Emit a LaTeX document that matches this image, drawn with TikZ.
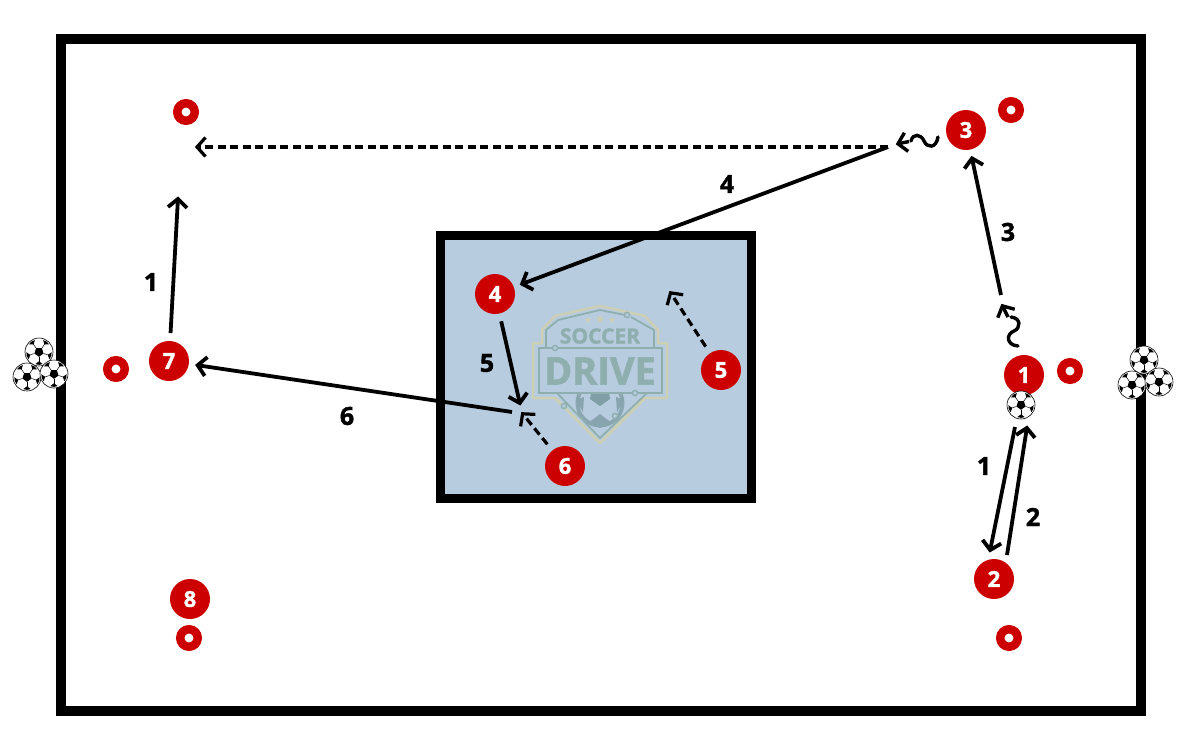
\documentclass[tikz,border=0pt]{standalone}
\usepackage{fontspec}
\setmainfont{Open Sans}[BoldFeatures={FakeBold=1.5}]
\usetikzlibrary{arrows.meta, shapes.geometric}
\definecolor{playerred}{HTML}{CC0000}
\definecolor{gridblue}{HTML}{B8CCE0}
\definecolor{logoteal}{HTML}{8FAFAE}
\definecolor{logosand}{HTML}{CDCFB2}
\definecolor{logoshade}{HTML}{7F9EA6}
\pgfdeclarearrow{
    name=Chevron,
    setup code={
        \pgfarrowssettipend{1pt}
        \pgfarrowssetlineend{-1pt}
        \pgfarrowssetvisualbackend{-8.5pt}
        \pgfarrowssetbackend{-8.5pt}
        \pgfarrowshullpoint{1pt}{0pt}
        \pgfarrowsupperhullpoint{-8.5pt}{10pt}
    },
    drawing code={
        \pgfsetdash{}{0pt}
        \pgfsetmiterjoin
        \pgfsetbuttcap
        \pgfpathmoveto{\pgfpoint{-8.5pt}{9.5pt}}
        \pgfpathlineto{\pgfpoint{0pt}{0pt}}
        \pgfpathlineto{\pgfpoint{-8.5pt}{-9.5pt}}
        \pgfusepathqstroke
    }
}
\tikzset{
    player/.style={circle, fill=playerred, text=white, minimum size=40pt, inner sep=0pt, outer sep=8pt,
        font=\fontsize{22}{22}\selectfont\bfseries},
    cone/.style={circle, draw=playerred, line width=8.5pt, fill=white, minimum size=17.5pt, inner sep=0pt},
    ball/.style={circle, draw=black, line width=0.6pt, fill=white, minimum size=28pt, inner sep=0pt,
        path picture={
            \begin{scope}[shift={(path picture bounding box.center)}, rotate=#1]
                \fill[black] (90:4.8) -- (162:4.8) -- (234:4.8) -- (306:4.8) -- (18:4.8) -- cycle;
                \foreach \a in {90,162,234,306,18} {
                    \draw[black, line width=0.5pt] (\a:4.8) -- (\a:10);
                    \fill[black] (\a-17:12.6) -- (\a:9.3) -- (\a+17:12.6) -- (\a:12.9) -- cycle;
                }
            \end{scope}
        }},
    ball/.default=12,
    pass/.style={line width=3.8pt, -{Chevron}},
    run/.style={line width=3.2pt, dash pattern=on 8pt off 4.5pt, -{Chevron}},
    dribble/.style={line width=3.4pt, line cap=round},
    tag/.style={font=\fontsize{25}{25}\selectfont\bfseries},
    logostar/.style={star, star points=5, star point ratio=2.4, fill=logosand, minimum size=#1, inner sep=0pt},
}
\begin{document}
\begin{tikzpicture}[x=1pt, y=-1pt]
    \useasboundingbox (0,0) rectangle (1200,750);

    % 场地
    \draw[line width=10pt, fill=white] (60.5,39) rectangle (1140.5,711);
    \fill[gridblue, draw=black, line width=9pt] (440.5,235) rectangle (751,498);

    % 标志
    \draw[logosand, line width=2.5pt, line join=round] (600,306) -- (645,316) -- (658,330) -- (658,343) -- (667,343) -- (667,398) -- (645,398) -- (600,443)
        -- (555,398) -- (533,398) -- (533,343) -- (542,343) -- (542,330) -- (555,316) -- cycle;
    \begin{scope}
        \clip (600,393) -- (650,393) -- (650,440) -- (550,440) -- (550,393) -- cycle;
        \fill[logoshade!80!gridblue] (600,403) circle (24.5);
        \fill[gridblue] (600,403) circle (20.5);
        \fill[logoshade] (591,393) -- (609,393) -- (610,399) -- (600,406) -- (590,399) -- cycle;
        \fill[logoshade!85!gridblue] (588,423) -- (600,414) -- (612,423) -- (600,428) -- cycle;
        \fill[logoshade!85!gridblue] (576,400) -- (584,397) -- (583,412) -- cycle;
        \fill[logoshade!85!gridblue] (624,400) -- (616,397) -- (617,412) -- cycle;
    \end{scope}
    \draw[logoteal, line width=1.8pt] (546,348) -- (546,330) -- (558,320) -- (600,310) -- (625,315);
    \draw[logoteal, line width=1.8pt] (631,317) -- (654,330) -- (654,348);
    \draw[logoteal, line width=1.8pt] (539,348) rectangle (662,393);
    \draw[logoteal, line width=1.8pt] (557,393) -- (600,438) -- (647,393);
    \foreach \x/\y in {627/315, 555/348, 635/393, 564/406, 615/416}
        \draw[logoteal, line width=1.4pt, fill=gridblue] (\x,\y) circle (2.6);
    \node[logostar=7pt] (star1) at (588,320) {};
    \node[logostar=9pt] (star2) at (600,319) {};
    \node[logostar=7pt] (star3) at (612,320) {};
    \node[logoteal, font=\fontsize{21}{21}\selectfont\bfseries] (soccer) at (600,336) {SOCCER};
    \node[logoteal, font=\fontsize{38}{38}\selectfont\bfseries] (drive) at (600,371) {DRIVE};

    % 标志桶
    \foreach \x/\y [count=\i] in {186/112, 1011/110, 116/369, 1070/371, 189/638, 1009/638}
        \node[cone] (cone\i) at (\x,\y) {};

    % 备用球
    \foreach \x/\y [count=\i] in {1144/360, 1132/385, 1159/382, 39/352, 27/377, 54/374}
        \node[ball=\i*40] (spare\i) at (\x,\y) {};

    % 球员
    \node[player] (p1) at (1024,375) {1};
    \node[player] (p2) at (994,579) {2};
    \node[player] (p3) at (966,130) {3};
    \node[player] (p4) at (495,294) {4};
    \node[player] (p5) at (721,370) {5};
    \node[player] (p6) at (565,466) {6};
    \node[player] (p7) at (169,361) {7};
    \node[player] (p8) at (190,599) {8};
    \node[ball] (ball1) at (1021,405) {};

    % 路线端点
    \coordinate (goal7) at (178,198);
    \coordinate (goal3) at (196,147);
    \coordinate (turn3) at (888,147);
    \coordinate (turn1) at (1001,295);
    \coordinate (goal6) at (512,412);
    \coordinate (goal5) at (520,404);
    \coordinate (end5) at (670,292);
    \coordinate (end6) at (522,413);
    \coordinate (start3) at (909,141.5);
    \coordinate (tip3) at (897,144);
    \coordinate (start1) at (1008,317);
    \coordinate (tip1) at (1002,305);
    \coordinate (pass1a) at (1015,427);
    \coordinate (pass1b) at (990,551);
    \coordinate (pass2a) at (1007,555);
    \coordinate (pass2b) at (1027,427);

    % 传球
    \draw[pass] (p7) -- (goal7);
    \draw[pass] (turn1) -- (p3);
    \draw[pass] (turn3) -- (p4);
    \draw[pass] (p4) -- (goal5);
    \draw[pass] (goal6) -- (p7);
    \draw[pass] (pass1a) -- (pass1b);
    \draw[pass] (pass2a) -- (pass2b);

    % 无球跑动
    \draw[run] (turn3) -- (goal3);
    \draw[run] (p5) -- (end5);
    \draw[run] (p6) -- (end6);

    % 运球
    \draw[dribble] (938,137) .. controls (936,149) and (927,148) .. (924,141)
        .. controls (921,134) and (913,133) .. (911,141);
    \draw[pass, line width=3.4pt] (start3) -- (tip3);
    \draw[dribble] (1018,346) .. controls (1006,345) and (1006,334) .. (1014,331)
        .. controls (1021,328) and (1021,318) .. (1011,317);
    \draw[pass, line width=3.4pt] (start1) -- (tip1);

    % 序号
    \node[tag] (tag1) at (151,282) {1};
    \node[tag] (tag2) at (727,184) {4};
    \node[tag] (tag3) at (1008,232) {3};
    \node[tag] (tag4) at (487,363) {5};
    \node[tag] (tag5) at (347,416) {6};
    \node[tag] (tag6) at (984,466) {1};
    \node[tag] (tag7) at (1033,517) {2};
\end{tikzpicture}
\end{document}
